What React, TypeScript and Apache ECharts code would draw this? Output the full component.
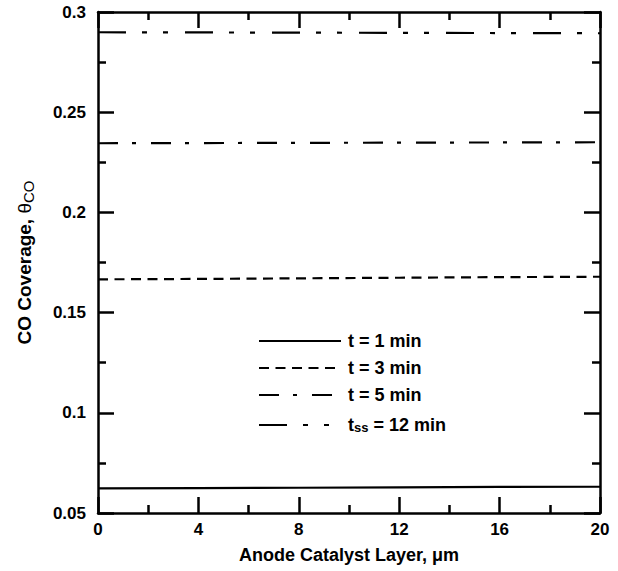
import React, { useEffect, useRef } from "react";
import * as echarts from "echarts";

const xPositions = [0, 4, 8, 12, 16, 20];
const t1 = [0.0623, 0.0624, 0.0626, 0.0628, 0.063, 0.0631];
const t3 = [0.1666, 0.1668, 0.1671, 0.1674, 0.1677, 0.1679];
const t5 = [0.2345, 0.2346, 0.2347, 0.2348, 0.2349, 0.235];
const tss = [0.2899, 0.2898, 0.2897, 0.2896, 0.2895, 0.2894];
const seriesNames = ["t = 1 min", "t = 3 min", "t = 5 min", "tss"];

const FONT = "Liberation Sans, Arial, Helvetica, sans-serif";

export default function App() {
  const ref = useRef<HTMLDivElement>(null);
  useEffect(() => {
    if (!ref.current) return;
    const chart = echarts.init(ref.current, null, { renderer: "svg" });
    const toPairs = (ys: number[]) => xPositions.map((x, i) => [x, ys[i]]);
    const axisLine = { show: true, onZero: false, lineStyle: { color: "#000", width: 2.5 } };
    const axisTick = { show: true, inside: true, length: 16, lineStyle: { color: "#000", width: 2.5 } };
    const minorTick = { show: true, splitNumber: 2, length: 8, lineStyle: { color: "#000", width: 2.5 } };
    const lineSeries = (name: string, ys: number[], type: any) => ({
      name,
      type: "line",
      data: toPairs(ys),
      symbol: "none",
      lineStyle: { color: "#000", width: 2.2, type, cap: "butt" },
      itemStyle: { color: "#000" },
    });
    chart.setOption({
      animation: false,
      backgroundColor: "#fff",
      textStyle: { fontFamily: FONT },
      grid: { left: 98, right: 18, top: 12, bottom: 58 },
      xAxis: [
        {
          type: "value",
          min: 0,
          max: 20,
          interval: 4,
          position: "bottom",
          axisLine,
          axisTick,
          minorTick,
          splitLine: { show: false },
          axisLabel: { color: "#000", fontSize: 17, fontWeight: "bold", fontFamily: FONT, margin: 8 },
          name: "Anode Catalyst Layer, μm",
          nameLocation: "middle",
          nameGap: 33,
          nameTextStyle: { color: "#000", fontSize: 18, fontWeight: "bold", fontFamily: FONT },
        },
        {
          type: "value",
          min: 0,
          max: 20,
          interval: 4,
          position: "top",
          axisLine,
          axisTick,
          minorTick,
          splitLine: { show: false },
          axisLabel: { show: false },
        },
      ],
      yAxis: [
        {
          type: "value",
          min: 0.05,
          max: 0.3,
          interval: 0.05,
          position: "left",
          axisLine,
          axisTick,
          minorTick,
          splitLine: { show: false },
          axisLabel: {
            color: "#000",
            fontSize: 17,
            fontWeight: "bold",
            fontFamily: FONT,
            margin: 12,
            formatter: (v: number) => String(+v.toFixed(2)),
          },
          name: "{a|CO Coverage, }{t|θ}{s|CO}",
          nameLocation: "middle",
          nameGap: 62,
          nameRotate: 90,
          nameTextStyle: {
            rich: {
              a: { color: "#000", fontSize: 19, fontWeight: "bold", fontFamily: FONT, lineHeight: 24 },
              t: { color: "#000", fontSize: 19, fontFamily: FONT, lineHeight: 24 },
              s: { color: "#000", fontSize: 15, fontFamily: FONT, verticalAlign: "bottom", lineHeight: 24, padding: [8, 0, 0, 0] },
            },
          },
        },
        {
          type: "value",
          min: 0.05,
          max: 0.3,
          interval: 0.05,
          position: "right",
          axisLine,
          axisTick,
          minorTick,
          splitLine: { show: false },
          axisLabel: { show: false },
        },
      ],
      legend: {
        orient: "vertical",
        left: 258,
        top: 332,
        padding: 0,
        itemWidth: 82,
        itemHeight: 14,
        itemGap: 9,
        data: seriesNames,
        itemStyle: { color: "transparent", borderWidth: 0, opacity: 0 },
        formatter: (name: string) =>
          name === "tss" ? "{b|t}{s|ss}{b| = 12 min}" : "{b|" + name + "}",
        textStyle: {
          padding: [0, 0, 0, 2],
          rich: {
            b: { color: "#000", fontSize: 18, fontWeight: "bold", fontFamily: FONT, lineHeight: 18 },
            s: { color: "#000", fontSize: 13, fontWeight: "bold", fontFamily: FONT, lineHeight: 10, verticalAlign: "bottom", padding: [8, 0, 0, 0] },
          },
        },
      },
      series: [
        lineSeries(seriesNames[0], t1, "solid"),
        lineSeries(seriesNames[1], t3, [10, 6.5]),
        lineSeries(seriesNames[2], t5, [20, 14, 4, 15]),
        lineSeries(seriesNames[3], tss, [28, 16, 5, 16, 5, 17]),
      ],
    });
    return () => chart.dispose();
  }, []);
  return (
    <div
      ref={ref}
      style={{ position: "fixed", left: 0, top: 0, width: 618, height: 571 }}
    />
  );
}
